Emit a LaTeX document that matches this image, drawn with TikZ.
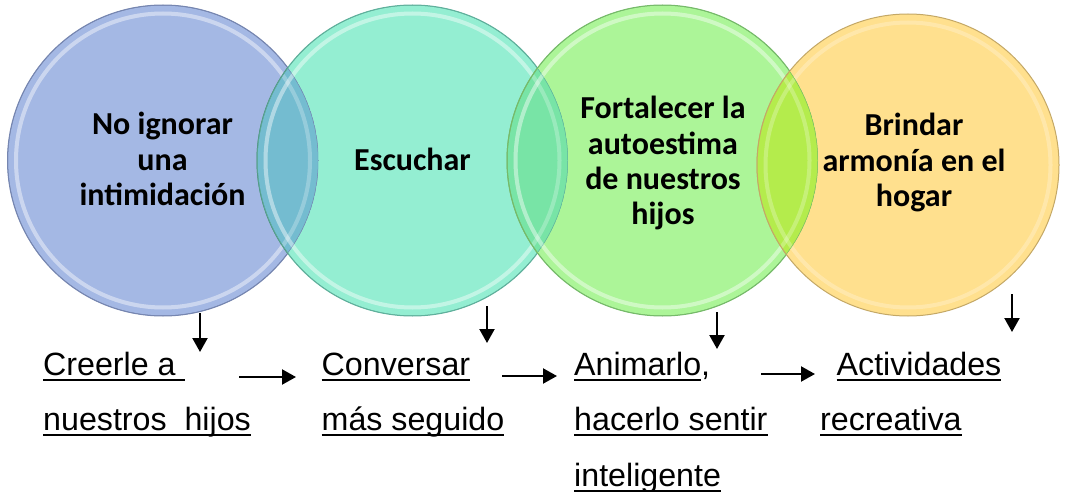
\documentclass[tikz,border=0pt]{standalone}
\usepackage{fontspec}
\setmainfont{Liberation Sans}
\newfontfamily\carl{Carlito}
\usetikzlibrary{arrows.meta}
\newcommand\cstack[1]{\vtop{\halign{\hfil##\hfil\cr#1\crcr}}}
\newcommand\lstack[1]{\vtop{\halign{##\hfil\cr#1\crcr}}}
\newcommand\myul[1]{\setbox0\hbox{#1}\rlap{\rule[-5.5pt]{\wd0}{2pt}}\box0}
\definecolor{cblue}{RGB}{164,184,228}
\definecolor{cblueE}{RGB}{118,134,176}
\definecolor{cteal}{RGB}{148,238,210}
\definecolor{ctealE}{RGB}{96,176,156}
\definecolor{cgreen}{RGB}{172,245,152}
\definecolor{cgreenE}{RGB}{118,186,106}
\definecolor{cyel}{RGB}{255,224,142}
\definecolor{cyelE}{RGB}{196,168,102}
\definecolor{lensA}{RGB}{116,188,208}
\definecolor{lensB}{RGB}{120,228,166}
\definecolor{lensC}{RGB}{180,236,76}
\tikzset{
  circfill/.style={circle, inner sep=0pt, minimum size=311pt},
  rim/.style={line width=1pt},
  ring/.style={white, opacity=.25, line width=4pt},
  ctext/.style={anchor=base, inner sep=0pt, text=black, font=\carl\bfseries\fontsize{32}{35.2}\selectfont},
  btext/.style={anchor=base west, inner sep=0pt, text=black, font=\fontsize{32.2}{55.7}\selectfont},
  arr/.style={line width=2.2pt, -{Triangle[width=15pt,length=14pt]}}
}
\begin{document}
\begin{tikzpicture}[x=1pt, y=-1pt]
\useasboundingbox (0,0) rectangle (1071,492);
\fill[white] (0,0) rectangle (1071,492);
% circles
\node[circfill, fill=cblue] (c1) at (163,160.5) {};
\draw[ring] (c1.center) circle (147pt);
\draw[rim, cblueE] (c1.center) circle (155.5pt);
\node[circfill, fill=cteal] (c2) at (412.5,160.5) {};
\draw[ring] (c2.center) circle (147pt);
\draw[rim, ctealE] (c2.center) circle (155.5pt);
\node[circfill, fill=cgreen] (c3) at (662.5,160.5) {};
\draw[ring] (c3.center) circle (147pt);
\draw[rim, cgreenE] (c3.center) circle (155.5pt);
\node[circfill, fill=cyel, minimum size=302pt] (c4) at (908,165) {};
\draw[ring] (c4.center) circle (142.5pt);
\draw[rim, cyelE] (c4.center) circle (151pt);
% overlaps
\begin{scope}
  \clip (c1.center) circle (155.5pt);
  \fill[lensA] (c2.center) circle (155.5pt);
  \draw[ring] (c1.center) circle (147pt);
  \draw[ring] (c2.center) circle (147pt);
  \draw[rim, cblueE] (c1.center) circle (155.5pt);
  \draw[rim, ctealE!80!black] (c2.center) circle (155.5pt);
\end{scope}
\begin{scope}
  \clip (c2.center) circle (155.5pt);
  \fill[lensB] (c3.center) circle (155.5pt);
  \draw[ring] (c2.center) circle (147pt);
  \draw[ring] (c3.center) circle (147pt);
  \draw[rim, ctealE] (c2.center) circle (155.5pt);
  \draw[rim, cgreenE] (c3.center) circle (155.5pt);
\end{scope}
\begin{scope}
  \clip (c3.center) circle (155.5pt);
  \fill[lensC] (c4.center) circle (151pt);
  \draw[ring] (c3.center) circle (147pt);
  \draw[ring] (c4.center) circle (142.5pt);
  \draw[rim, cgreenE] (c3.center) circle (155.5pt);
  \draw[rim, cyelE] (c4.center) circle (151pt);
\end{scope}
% circle texts
\node[ctext] (t1) at (162.5,135) {\cstack{No ignorar\cr una\cr intimidación}};
\node[ctext] (t2) at (412.5,171) {Escuchar};
\node[ctext] (t3) at (663,119) {\cstack{Fortalecer la\cr autoestima\cr de nuestros\cr hijos}};
\node[ctext] (t4) at (914,136) {\cstack{Brindar\cr armonía en el\cr hogar}};
% bottom texts
\node[btext] (b1) at (43,375) {\lstack{\myul{Creerle a }\cr\myul{nuestros\ \ hijos}}};
\node[btext] (b2) at (321.5,375) {\lstack{\myul{Conversar}\cr\myul{más seguido}}};
\node[btext] (b3) at (574,375) {\lstack{\myul{Animarlo},\cr\myul{hacerlo sentir}\cr\myul{inteligente}}};
\node[btext] (b4) at (820,375) {\lstack{\hspace*{16.5pt}\myul{Actividades}\cr\myul{recreativa}}};
% arrow ends
\coordinate (v1s) at (200,313); \coordinate (v1e) at (200,352);
\coordinate (v2s) at (487,306); \coordinate (v2e) at (487,343);
\coordinate (v3s) at (717,312); \coordinate (v3e) at (717,349);
\coordinate (v4s) at (1012,294); \coordinate (v4e) at (1012,332);
\coordinate (h1s) at (239,377); \coordinate (h1e) at (296,377);
\coordinate (h2s) at (502,376); \coordinate (h2e) at (557,376);
\coordinate (h3s) at (761,374); \coordinate (h3e) at (815,374);
\draw[arr] (v1s) -- (v1e);
\draw[arr] (v2s) -- (v2e);
\draw[arr] (v3s) -- (v3e);
\draw[arr] (v4s) -- (v4e);
\draw[arr] (h1s) -- (h1e);
\draw[arr] (h2s) -- (h2e);
\draw[arr] (h3s) -- (h3e);
\end{tikzpicture}
\end{document}
